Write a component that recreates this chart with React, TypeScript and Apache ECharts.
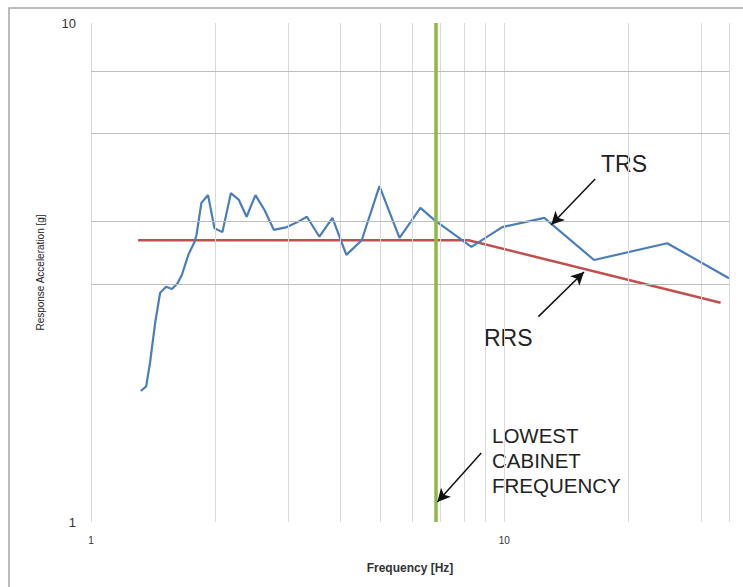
import React, { useEffect, useRef } from "react";
import * as echarts from "echarts";

// TRS (test response spectrum)
const trsFreq = [1.32, 1.36, 1.39, 1.43, 1.47, 1.52, 1.57, 1.62, 1.66, 1.72, 1.78, 1.8, 1.85, 1.92, 1.99, 2.08, 2.18, 2.28, 2.38, 2.5, 2.63, 2.77, 2.98, 3.16, 3.33, 3.57, 3.84, 4.15, 4.52, 4.99, 5.58, 6.27, 6.77, 8.33, 9.89, 12.5, 16.5, 24.8, 35];
const trsAccel = [1.83, 1.87, 2.09, 2.51, 2.88, 2.96, 2.93, 3.01, 3.13, 3.43, 3.64, 3.76, 4.36, 4.52, 3.88, 3.81, 4.56, 4.42, 4.09, 4.52, 4.22, 3.85, 3.9, 3.99, 4.09, 3.73, 4.07, 3.43, 3.67, 4.71, 3.71, 4.26, 4.03, 3.56, 3.9, 4.07, 3.35, 3.62, 3.08];

// RRS (required response spectrum)
const rrsFreq = [1.3, 8.2, 33.4];
const rrsAccel = [3.67, 3.67, 2.75];

const lowestCabinetFreq = 6.82;

const xGridValues = [1, 2, 3, 4, 5, 6, 7, 8, 9, 10, 20, 30, 35];
const yGridValues = [3, 4, 6, 8];
const xTickLabels = [1, 10];

// annotation arrows: [from, to] in data units
const arrows = [
  { from: [16.6, 4.87], to: [13.0, 3.94] },
  { from: [12.1, 2.58], to: [15.6, 3.17] },
  { from: [8.8, 1.375], to: [6.89, 1.097] },
];

export default function App() {
  const ref = useRef<HTMLDivElement>(null);
  useEffect(() => {
    const chart = echarts.init(ref.current!, null, { renderer: "svg" });
    const zip = (a: number[], b: number[]) => a.map((v, i) => [v, b[i]]);
    chart.setOption({
      animation: false,
      grid: { left: 91, top: 23, right: 14, bottom: 65 },
      xAxis: {
        type: "log",
        logBase: 10,
        min: 1,
        max: 35,
        name: "Frequency [Hz]",
        nameLocation: "middle",
        nameGap: 40,
        nameTextStyle: { fontSize: 12, fontWeight: "bold", color: "#333", fontFamily: "Liberation Sans" },
        axisLine: { show: false },
        axisTick: { show: false },
        splitLine: { show: false },
        axisLabel: {
          margin: 13,
          fontSize: 10,
          color: "#333",
          fontFamily: "Liberation Sans",
          formatter: (v: number) =>
            xTickLabels.some((t) => Math.abs(t - v) < 1e-6) ? String(Math.round(v)) : "",
        },
      },
      yAxis: {
        type: "log",
        logBase: 10,
        min: 1,
        max: 10,
        name: "Response Acceleration [g]",
        nameLocation: "middle",
        nameGap: 46,
        nameTextStyle: { fontSize: 10, color: "#222", fontFamily: "Liberation Sans" },
        axisLine: { show: false },
        axisTick: { show: false },
        splitLine: { show: false },
        axisLabel: { margin: 15, fontSize: 13, color: "#333", fontFamily: "Liberation Sans" },
      },
      graphic: [
        {
          type: "rect",
          shape: { x: 9, y: 8, width: 800, height: 620 },
          style: { fill: "none", stroke: "#A6A6A6", lineWidth: 1.5 },
          silent: true,
        },
        {
          type: "text",
          x: 601,
          y: 164,
          style: { text: "TRS", fontSize: 23, fontFamily: "Liberation Sans", fill: "#222", verticalAlign: "middle" },
        },
        {
          type: "text",
          x: 484,
          y: 338,
          style: { text: "RRS", fontSize: 23, fontFamily: "Liberation Sans", fill: "#222", verticalAlign: "middle" },
        },
        {
          type: "text",
          x: 492,
          y: 423,
          style: {
            text: "LOWEST\nCABINET\nFREQUENCY",
            fontSize: 20.5,
            lineHeight: 25,
            fontFamily: "Liberation Sans",
            fill: "#222",
            verticalAlign: "top",
          },
        },
      ],
      series: [
        {
          name: "grid",
          type: "line",
          data: [[1, 1]],
          showSymbol: false,
          lineStyle: { opacity: 0 },
          silent: true,
          z: 1,
          markLine: {
            silent: true,
            symbol: ["none", "none"],
            label: { show: false },
            data: [
              ...xGridValues.map((v) => ({ xAxis: v, lineStyle: { color: "#D9D9D9", width: 1, type: "solid" } })),
              ...yGridValues.map((v) => ({ yAxis: v, lineStyle: { color: "#BDBDBD", width: 1, type: "solid" } })),
            ],
          },
        },
        {
          name: "RRS",
          type: "line",
          data: zip(rrsFreq, rrsAccel),
          showSymbol: false,
          lineStyle: { color: "#C0504D", width: 2.5 },
          z: 2,
        },
        {
          name: "TRS",
          type: "line",
          data: zip(trsFreq, trsAccel),
          showSymbol: false,
          lineStyle: { color: "#4A7EBB", width: 2.2 },
          z: 3,
        },
        {
          name: "lowest cabinet frequency",
          type: "line",
          data: [[1, 1]],
          showSymbol: false,
          lineStyle: { opacity: 0 },
          silent: true,
          z: 4,
          markLine: {
            silent: true,
            symbol: ["none", "none"],
            label: { show: false },
            data: [{ xAxis: lowestCabinetFreq }],
            lineStyle: { color: "#8CBA45", width: 3.5, type: "solid" },
          },
        },
        {
          name: "arrows",
          type: "line",
          data: [[1, 1]],
          showSymbol: false,
          lineStyle: { opacity: 0 },
          silent: true,
          z: 5,
          markLine: {
            silent: true,
            symbol: ["none", "arrow"],
            symbolSize: [10, 13],
            label: { show: false },
            data: arrows.map((a) => [{ coord: a.from }, { coord: a.to }]),
            lineStyle: { color: "#111", width: 1.5, type: "solid" },
          },
        },
      ],
    });
    return () => chart.dispose();
  }, []);
  return <div ref={ref} style={{ position: "absolute", left: 0, top: 0, width: 743, height: 587 }} />;
}
